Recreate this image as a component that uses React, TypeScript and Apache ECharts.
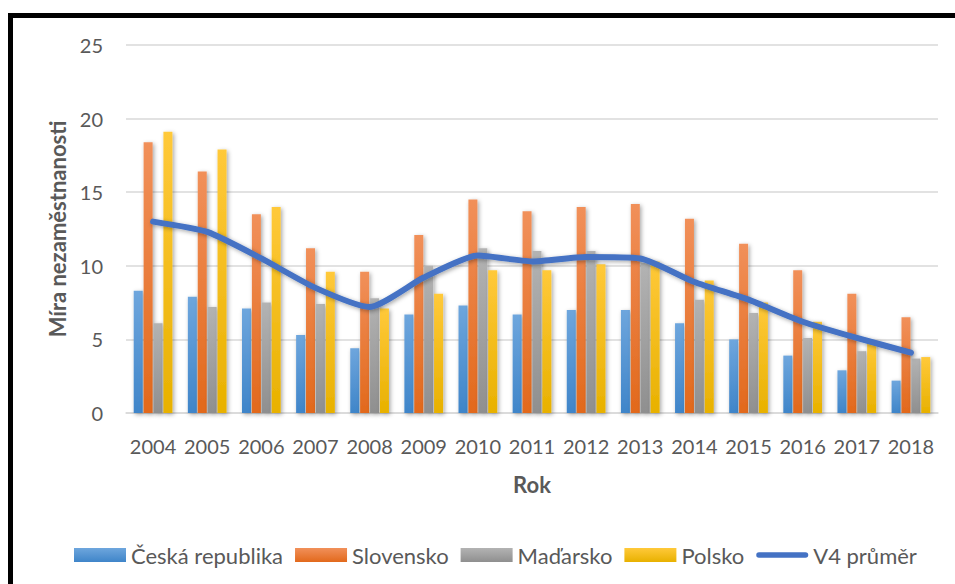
import React, { useEffect, useRef } from "react";
import * as echarts from "echarts";

const years = ["2004","2005","2006","2007","2008","2009","2010","2011","2012","2013","2014","2015","2016","2017","2018"];
const ceskaRepublika = [8.3, 7.9, 7.1, 5.3, 4.4, 6.7, 7.3, 6.7, 7.0, 7.0, 6.1, 5.0, 3.9, 2.9, 2.2];
const slovensko = [18.4, 16.4, 13.5, 11.2, 9.6, 12.1, 14.5, 13.7, 14.0, 14.2, 13.2, 11.5, 9.7, 8.1, 6.5];
const madarsko = [6.1, 7.2, 7.5, 7.4, 7.8, 10.0, 11.2, 11.0, 11.0, 10.2, 7.7, 6.8, 5.1, 4.2, 3.7];
const polsko = [19.1, 17.9, 14.0, 9.6, 7.1, 8.1, 9.7, 9.7, 10.1, 10.3, 9.0, 7.5, 6.2, 4.9, 3.8];
const v4Prumer = [13.0, 12.3, 10.5, 8.5, 7.2, 9.2, 10.7, 10.3, 10.6, 10.5, 8.9, 7.7, 6.2, 5.1, 4.1];
const yTicks = { min: 0, max: 25, interval: 5 };

const FONT = "Lato, 'Open Sans', sans-serif";
const TEXT = "#595959";

function grad(top: string, bottom: string) {
  return new echarts.graphic.LinearGradient(0, 0, 0, 1, [
    { offset: 0, color: top },
    { offset: 1, color: bottom },
  ]);
}

export default function App() {
  const ref = useRef<HTMLDivElement>(null);
  useEffect(() => {
    if (!ref.current) return;
    const chart = echarts.init(ref.current, null, { renderer: "svg" });
    const barCommon = {
      type: "bar" as const,
      barWidth: 9,
      barGap: "10%",
    };
    const shadow = {
      shadowBlur: 4,
      shadowColor: "rgba(0,0,0,0.35)",
      shadowOffsetX: 1.5,
      shadowOffsetY: 1.5,
    };
    chart.setOption({
      animation: false,
      backgroundColor: "#ffffff",
      textStyle: { fontFamily: FONT },
      grid: { left: 126, right: 17, top: 45, bottom: 171, containLabel: false },
      xAxis: {
        type: "category",
        data: years,
        name: "Rok",
        nameLocation: "middle",
        nameGap: 60,
        nameTextStyle: { fontFamily: FONT, fontSize: 22, fontWeight: "bold", color: TEXT },
        axisLine: { lineStyle: { color: "#D9D9D9", width: 1.5 } },
        axisTick: { show: false },
        axisLabel: { fontFamily: FONT, fontSize: 20, color: TEXT, margin: 23, interval: 0 },
      },
      yAxis: {
        type: "value",
        min: yTicks.min,
        max: yTicks.max,
        interval: yTicks.interval,
        name: "Míra nezaměstnanosti",
        nameLocation: "middle",
        nameGap: 57,
        nameTextStyle: { fontFamily: FONT, fontSize: 22, fontWeight: "bold", color: TEXT },
        axisLine: { show: false },
        axisTick: { show: false },
        axisLabel: { fontFamily: FONT, fontSize: 20, color: TEXT, margin: 23 },
        splitLine: { lineStyle: { color: "#D9D9D9", width: 1.5 } },
      },
      legend: {
        top: 539,
        left: 69,
        itemWidth: 52,
        itemHeight: 14,
        itemGap: 12,
        textStyle: { fontFamily: FONT, fontSize: 22, color: TEXT },
        data: [
          { name: "Česká republika", icon: "rect" },
          { name: "Slovensko", icon: "rect" },
          { name: "Maďarsko", icon: "rect" },
          { name: "Polsko", icon: "rect" },
          {
            name: "V4 průměr",
            icon: "path://M3,0 H54 A3,3 0 0 1 54,6 H3 A3,3 0 0 1 3,0 Z",
            itemStyle: { color: "#4472C4" },
          },
        ],
      },
      series: [
        { ...barCommon, name: "Česká republika", data: ceskaRepublika, itemStyle: { color: grad("#6EA6DD", "#3F85C9"), ...shadow } },
        { ...barCommon, name: "Slovensko", data: slovensko, itemStyle: { color: grad("#F1905A", "#E2691C"), ...shadow } },
        { ...barCommon, name: "Maďarsko", data: madarsko, itemStyle: { color: grad("#B3B3B3", "#8F8F8F"), ...shadow } },
        { ...barCommon, name: "Polsko", data: polsko, itemStyle: { color: grad("#FFC93A", "#E8B100"), ...shadow } },
        {
          type: "line",
          name: "V4 průměr",
          data: v4Prumer,
          smooth: 0.2,
          symbol: "none",
          lineStyle: { color: "#4472C4", width: 6, cap: "round", join: "round", ...shadow },
          itemStyle: { color: "#4472C4" },
          z: 5,
        },
      ],
      graphic: [
        { type: "rect", left: 8, top: 13, shape: { width: 5, height: 571 }, style: { fill: "#000" } },
        { type: "rect", left: 8, top: 13, shape: { width: 947, height: 5 }, style: { fill: "#000" } },
      ],
    });
    return () => chart.dispose();
  }, []);
  return (
    <div
      ref={ref}
      style={{ position: "absolute", left: 0, top: 0, width: 955, height: 584 }}
    />
  );
}
